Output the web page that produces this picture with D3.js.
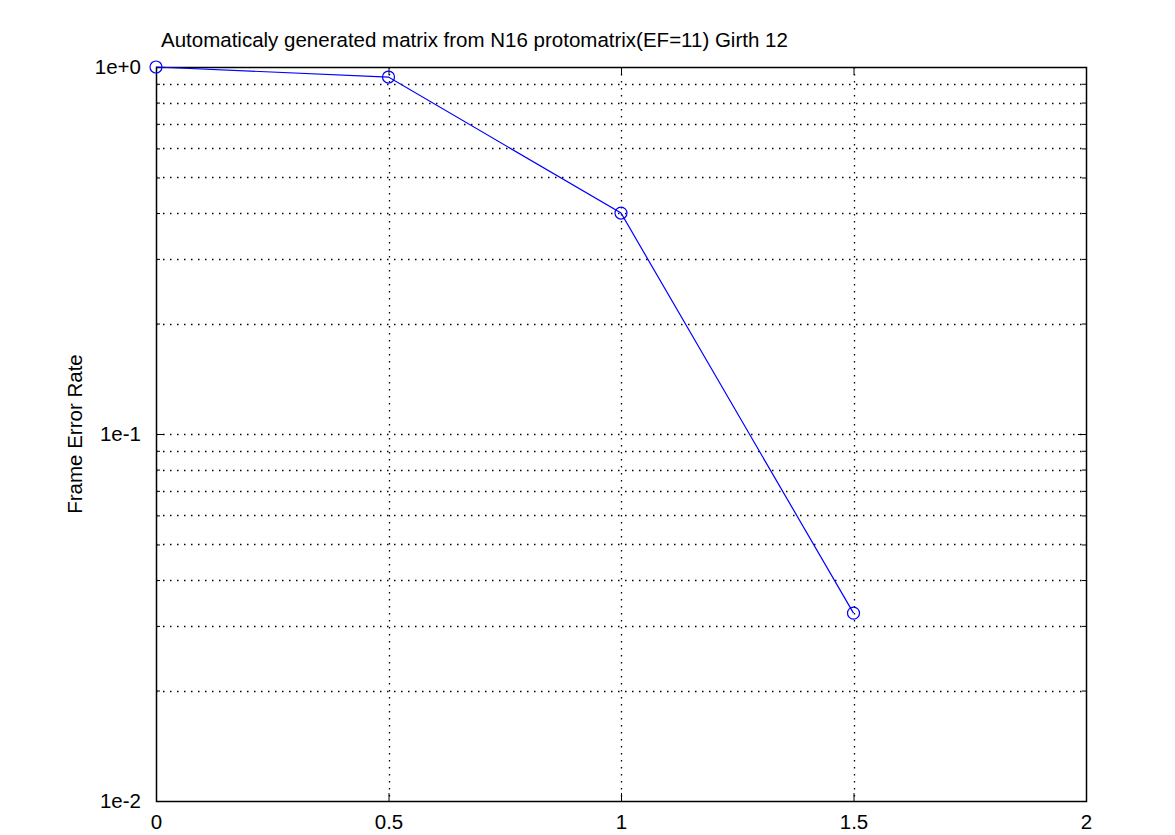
<!DOCTYPE html>
<html>
<head>
<meta charset="utf-8">
<script src="https://cdn.jsdelivr.net/npm/d3@7"></script>
<style>
body { margin: 0; background: #fff; }
text { font-family: "Liberation Sans", Arial, sans-serif; }
</style>
</head>
<body>
<svg id="chart"></svg>
<script>
// data
var snr = [0, 0.5, 1, 1.5];
var fer = [1.0, 0.939, 0.4, 0.0325];
var xTicks = [0, 0.5, 1, 1.5, 2];
var yTicks = [1e-2, 1e-1, 1];
var yTickLabels = ['1e-2', '1e-1', '1e+0'];

var svgWidth = 1175;
var svgHeight = 835;
var plotLeft = 156, plotRight = 1086, plotTop = 67, plotBottom = 801;
var fontSize = 20.5;

var svg = d3.select('#chart')
    .attr('width', svgWidth)
    .attr('height', svgHeight);

var xScale = d3.scaleLinear()
    .domain([0, 2])
    .range([plotLeft, plotRight]);

var yScale = d3.scaleLog()
    .domain([1e-2, 1])
    .range([plotBottom, plotTop]);

// minor log ticks 2..9 per decade
var minor = [];
[1e-2, 1e-1].forEach(function (dec) {
    for (var k = 2; k <= 9; k++) minor.push(dec * k);
});
var allY = yTicks.concat(minor);

var grid = svg.append('g')
    .attr('stroke', '#000')
    .attr('stroke-width', 1.3)
    .attr('stroke-dasharray', '1.5,5.5');

grid.selectAll('.hg')
    .data(allY.filter(function (d) { return d > 1e-2 && d < 1; }))
    .enter()
    .append('line')
    .attr('x1', plotLeft).attr('x2', plotRight)
    .attr('y1', function (d) { return Math.round(yScale(d)) + 0.5; })
    .attr('y2', function (d) { return Math.round(yScale(d)) + 0.5; });

grid.selectAll('.vg')
    .data(xTicks.filter(function (d) { return d > 0 && d < 2; }))
    .enter()
    .append('line')
    .attr('y1', plotTop).attr('y2', plotBottom)
    .attr('x1', function (d) { return Math.round(xScale(d)) + 0.5; })
    .attr('x2', function (d) { return Math.round(xScale(d)) + 0.5; });

// axes with inward ticks
var xAxisB = d3.axisBottom(xScale).tickValues(xTicks).tickSize(-8).tickPadding(13)
    .tickFormat(function (d) { return String(d); });
var xAxisT = d3.axisTop(xScale).tickValues(xTicks).tickSize(-8).tickFormat('');
var yAxisL = d3.axisLeft(yScale).tickValues(allY).tickSize(-8).tickPadding(15)
    .tickFormat(function (d) {
        var i = yTicks.indexOf(d);
        return i >= 0 ? yTickLabels[i] : '';
    });
var yAxisR = d3.axisRight(yScale).tickValues(allY).tickSize(-8).tickFormat('');

function style(g) {
    g.select('.domain').remove();
    g.selectAll('line').attr('stroke', '#000');
    g.selectAll('text').attr('font-size', fontSize).attr('fill', '#000')
        .attr('font-family', '"Liberation Sans", Arial, sans-serif');
}

svg.append('g').attr('transform', 'translate(0,' + plotBottom + ')').call(xAxisB).call(style);
svg.append('g').attr('transform', 'translate(0,' + plotTop + ')').call(xAxisT).call(style);
svg.append('g').attr('transform', 'translate(' + plotLeft + ',0)').call(yAxisL).call(style);
svg.append('g').attr('transform', 'translate(' + plotRight + ',0)').call(yAxisR).call(style);

// minor ticks shorter
svg.selectAll('.tick').filter(function (d) { return minor.indexOf(d) >= 0; })
    .select('line').attr('x2', function () {
        return +d3.select(this).attr('x2') / 2;
    });

svg.append('rect')
    .attr('x', plotLeft + 0.5).attr('y', plotTop + 0.5)
    .attr('width', plotRight - plotLeft).attr('height', plotBottom - plotTop)
    .attr('fill', 'none').attr('stroke', '#000').attr('stroke-width', 1.5);

// series
var pts = snr.map(function (d, i) { return [d, fer[i]]; });
var line = d3.line()
    .x(function (d) { return xScale(d[0]); })
    .y(function (d) { return yScale(d[1]); });

svg.append('path')
    .datum(pts)
    .attr('d', line)
    .attr('fill', 'none')
    .attr('stroke', '#0000ff')
    .attr('stroke-width', 1.2);

svg.selectAll('circle')
    .data(pts)
    .enter()
    .append('circle')
    .attr('cx', function (d) { return xScale(d[0]); })
    .attr('cy', function (d) { return yScale(d[1]); })
    .attr('r', 6)
    .attr('fill', 'none')
    .attr('stroke', '#0000ff')
    .attr('stroke-width', 1.2);

// title and label
svg.append('text')
    .attr('x', 161).attr('y', 47)
    .attr('font-size', fontSize)
    .text('Automaticaly generated matrix from N16 protomatrix(EF=11) Girth 12');

svg.append('text')
    .attr('transform', 'translate(82,434) rotate(-90)')
    .attr('text-anchor', 'middle')
    .attr('font-size', fontSize)
    .text('Frame Error Rate');
</script>
</body>
</html>
